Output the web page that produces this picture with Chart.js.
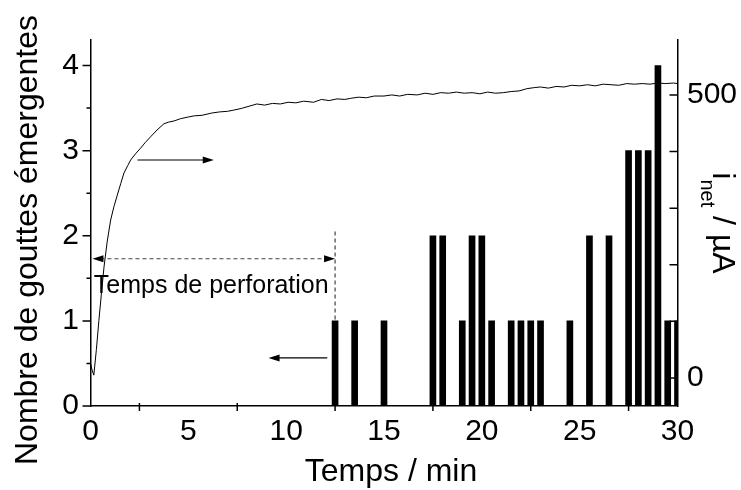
<!DOCTYPE html>
<html>
<head>
<meta charset="utf-8">
<script src="https://cdn.jsdelivr.net/npm/chart.js@4.4.0/dist/chart.umd.min.js"></script>
<style>
  html, body { margin: 0; padding: 0; background: #fff; }
  #wrap { width: 741px; height: 490px; position: relative; }
</style>
</head>
<body>
<div id="wrap"><canvas id="chart"></canvas></div>
<script>
// gouttes émergentes (barres) : temps en min, nombre de gouttes
const dropTimes = [12.5, 13.5, 15, 17.5, 18, 19, 19.5, 20, 20.5, 21.5, 22, 22.5, 23, 24.5, 25.5, 26.5, 27.5, 28, 28.5, 29, 29.5, 30];
const dropCounts = [1, 1, 1, 2, 2, 1, 2, 2, 1, 1, 1, 1, 1, 1, 2, 2, 3, 3, 3, 4, 1, 1];

// courant net (courbe) : temps en min, i_net en µA
const currentTimes = [0, 0.08, 0.17, 0.3, 0.43, 0.56, 0.69, 0.85, 1.03, 1.2, 1.37, 1.55, 1.71, 1.9, 2.05, 2.3, 2.56, 2.8, 3.07, 3.4,
    3.75, 4.0, 4.27, 4.6, 5.0, 5.3, 5.7, 6.2, 6.6, 7.0, 7.3, 7.7, 8.1, 8.5, 8.9, 9.3, 9.7, 10.1, 10.5, 10.9,
    11.4, 11.8, 12.2, 12.6, 13.0, 13.3, 13.7, 14.1, 14.5, 15.0, 15.4, 15.8, 16.2, 16.7, 17.1, 17.5, 17.9, 18.3, 18.7, 19.1,
    19.5, 19.9, 20.3, 20.7, 21.1, 21.5, 21.9, 22.3, 22.7, 23.0, 23.4, 23.8, 24.2, 24.6, 25.0, 25.4, 25.8, 26.2, 26.6, 27.0,
    27.4, 27.8, 28.2, 28.6, 29.0, 29.4, 29.8, 30];
const currentValues = [26, 14, 5, 50, 102, 150, 196, 240, 279, 303, 323, 344, 362, 375, 385, 396, 406, 416, 426, 438,
    449, 452, 454, 458, 461, 463, 464, 468, 470, 471, 473, 476, 480, 484, 482, 485, 484, 487, 486, 489,
    487, 492, 490, 493, 492, 494, 496, 495, 498, 498, 500, 498, 501, 500, 503, 501, 504, 503, 505, 503,
    504, 502, 505, 503, 504, 506, 507, 511, 513, 514, 512, 515, 514, 517, 516, 518, 516, 519, 518, 517,
    520, 519, 520, 519, 521, 520, 521, 520];

// graduations
const xTickLabels = [0, 5, 10, 15, 20, 25, 30];
const xTickMarks = [2.5, 7.5, 12.5, 17.5, 22.5, 27.5];
const yLeftLabels = [0, 1, 2, 3, 4];
const yLeftMinor = [0.5, 1.5, 2.5, 3.5];
const yRightLabels = [0, 500];
const yRightMarks = [0, 100, 200, 300, 400, 500];

const FONT = "'Liberation Sans', Arial, sans-serif";

// annotations (en unités de données : temps, nombre de gouttes)
const perforationEnd = 12.5;
const perforationLevel = 1.73;

function arrowHead(ctx, x, y, dir) {
    ctx.beginPath();
    ctx.moveTo(x, y);
    ctx.lineTo(x - dir * 11, y - 3.5);
    ctx.lineTo(x - dir * 11, y + 3.5);
    ctx.closePath();
    ctx.fill();
}

const decorPlugin = {
    id: 'decor',
    afterDraw(chart) {
        const { ctx, chartArea: a, scales } = chart;
        const x = scales.x, y = scales.y, y2 = scales.y2;
        ctx.save();
        ctx.strokeStyle = '#000';
        ctx.fillStyle = '#000';
        ctx.lineWidth = 1.5;

        // marques de graduation
        ctx.beginPath();
        xTickMarks.forEach(v => {
            const px = x.getPixelForValue(v);
            ctx.moveTo(px, a.bottom - 3);
            ctx.lineTo(px, a.bottom + 5);
        });
        yLeftLabels.forEach(v => {
            const py = y.getPixelForValue(v);
            ctx.moveTo(a.left - 8, py);
            ctx.lineTo(a.left, py);
        });
        yLeftMinor.forEach(v => {
            const py = y.getPixelForValue(v);
            ctx.moveTo(a.left - 4, py);
            ctx.lineTo(a.left, py);
        });
        yRightMarks.forEach(v => {
            const py = y2.getPixelForValue(v);
            ctx.moveTo(a.right - 8, py);
            ctx.lineTo(a.right, py);
        });
        ctx.stroke();

        // flèches indiquant l'axe de chaque série
        ctx.lineWidth = 1.2;
        const ay1 = y.getPixelForValue(2.89);
        ctx.beginPath();
        ctx.moveTo(x.getPixelForValue(2.4), ay1);
        ctx.lineTo(x.getPixelForValue(6.3) - 8, ay1);
        ctx.stroke();
        arrowHead(ctx, x.getPixelForValue(6.3), ay1, 1);

        const ay2 = y.getPixelForValue(0.565);
        ctx.beginPath();
        ctx.moveTo(x.getPixelForValue(12.1), ay2);
        ctx.lineTo(x.getPixelForValue(9.1) + 8, ay2);
        ctx.stroke();
        arrowHead(ctx, x.getPixelForValue(9.1), ay2, -1);

        // temps de perforation
        const px0 = x.getPixelForValue(0.1);
        const px1 = x.getPixelForValue(perforationEnd);
        const py = y.getPixelForValue(perforationLevel);
        ctx.strokeStyle = '#444';
        ctx.setLineDash([4, 3]);
        ctx.beginPath();
        ctx.moveTo(px0 + 8, py);
        ctx.lineTo(px1 - 8, py);
        ctx.moveTo(px1, y.getPixelForValue(2.05));
        ctx.lineTo(px1, y.getPixelForValue(1.0));
        ctx.stroke();
        ctx.setLineDash([]);
        arrowHead(ctx, px0, py, -1);
        arrowHead(ctx, px1, py, 1);

        ctx.font = '25px ' + FONT;
        ctx.textAlign = 'left';
        ctx.textBaseline = 'alphabetic';
        ctx.fillText('Temps de perforation', x.getPixelForValue(0.17), y.getPixelForValue(1.33));

        // titres des axes
        ctx.font = '32px ' + FONT;
        ctx.textAlign = 'center';
        ctx.fillText('Temps / min', (a.left + a.right) / 2 + 7, a.bottom + 75);

        ctx.save();
        ctx.translate(37, (a.top + a.bottom) / 2 + 17);
        ctx.rotate(-Math.PI / 2);
        ctx.fillText('Nombre de gouttes émergentes', 0, 0);
        ctx.restore();

        // i_net / µA, lu de haut en bas
        ctx.save();
        ctx.textAlign = 'left';
        const big = '32px ' + FONT, small = '20px ' + FONT;
        ctx.font = big;
        const wI = ctx.measureText('i').width;
        const wRest = ctx.measureText(' / µA').width;
        ctx.font = small;
        const wNet = ctx.measureText('net').width;
        const total = wI + wNet + wRest;
        ctx.translate(a.right + 35, (a.top + a.bottom) / 2 - total / 2);
        ctx.rotate(Math.PI / 2);
        ctx.font = big;
        ctx.fillText('i', 0, 0);
        ctx.font = small;
        ctx.fillText('net', wI, 12);
        ctx.font = big;
        ctx.fillText(' / µA', wI + wNet, 0);
        ctx.restore();

        ctx.restore();
    }
};

const tickFont = { family: FONT, size: 30 };

new Chart(document.getElementById('chart'), {
    type: 'bar',
    data: {
        datasets: [
            {
                label: 'Nombre de gouttes',
                data: dropTimes.map((t, i) => ({ x: t, y: dropCounts[i] })),
                backgroundColor: '#000',
                borderWidth: 0,
                barThickness: 6,
                yAxisID: 'y',
                order: 2
            },
            {
                label: 'i_net',
                type: 'line',
                data: currentTimes.map((t, i) => ({ x: t, y: currentValues[i] })),
                borderColor: '#000',
                borderWidth: 1,
                pointRadius: 0,
                tension: 0,
                fill: false,
                yAxisID: 'y2',
                order: 1
            }
        ]
    },
    options: {
        responsive: true,
        maintainAspectRatio: false,
        animation: false,
        layout: { padding: { top: 40, left: 0, right: 0, bottom: 0 } },
        plugins: {
            legend: { display: false },
            tooltip: { enabled: false }
        },
        scales: {
            x: {
                type: 'linear',
                min: 0,
                max: 30,
                offset: false,
                grid: { display: false, drawTicks: false, offset: false },
                border: { display: true, color: '#000', width: 1.5 },
                ticks: { font: tickFont, color: '#000', padding: 8, maxRotation: 0 },
                afterBuildTicks: s => { s.ticks = xTickLabels.map(v => ({ value: v })); },
                afterFit: s => { s.height = 84; }
            },
            y: {
                position: 'left',
                min: 0,
                max: 4.3,
                grid: { display: false, drawTicks: false },
                border: { display: true, color: '#000', width: 1.5 },
                ticks: { font: tickFont, color: '#000', padding: 11.5 },
                afterBuildTicks: s => { s.ticks = yLeftLabels.map(v => ({ value: v })); },
                afterFit: s => { s.width = 90.5; }
            },
            y2: {
                position: 'right',
                min: -49.5,
                max: 597,
                grid: { display: false, drawTicks: false },
                border: { display: true, color: '#000', width: 1.5 },
                ticks: { font: tickFont, color: '#000', padding: 9.5 },
                afterBuildTicks: s => { s.ticks = yRightLabels.map(v => ({ value: v })); },
                afterFit: s => { s.width = 63.5; }
            }
        }
    },
    plugins: [decorPlugin]
});
</script>
</body>
</html>
